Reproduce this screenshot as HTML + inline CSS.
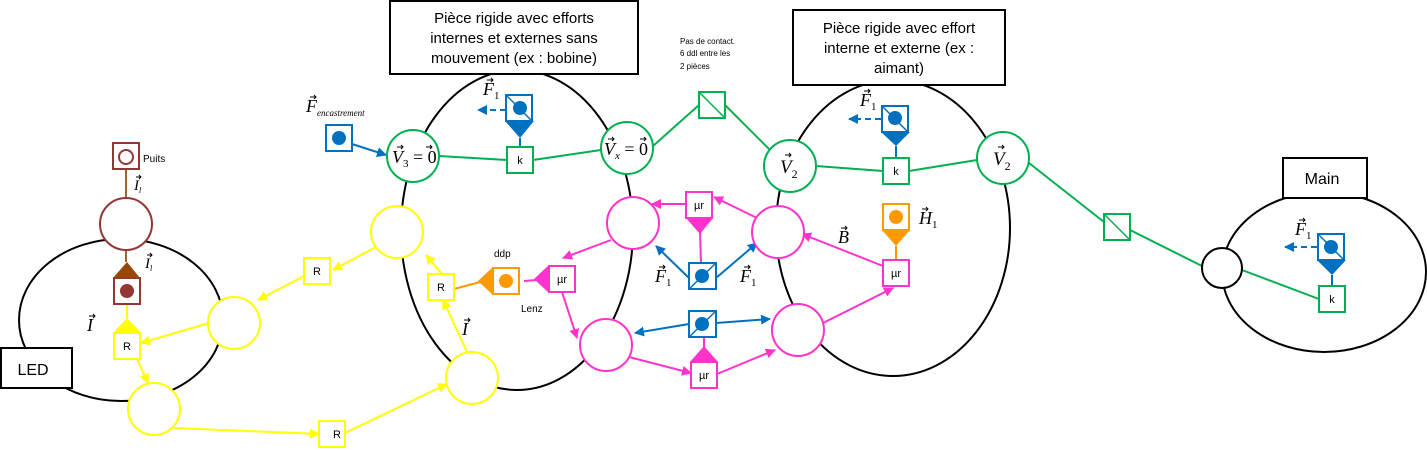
<!DOCTYPE html>
<html><head><meta charset="utf-8"><style>
body{margin:0;background:#fff}
svg{display:block}
text{font-family:"Liberation Sans",sans-serif}
.m text,.m tspan{font-family:"Liberation Serif",serif}
</style></head><body>
<svg width="1427" height="450" viewBox="0 0 1427 450" xmlns="http://www.w3.org/2000/svg">
<defs>
<marker id="ay" markerWidth="10" markerHeight="10" refX="9" refY="5" orient="auto" markerUnits="userSpaceOnUse"><path d="M0,0 L10,5 L0,10z" fill="#ffff00"/></marker>
<marker id="am" markerWidth="10" markerHeight="10" refX="9" refY="5" orient="auto" markerUnits="userSpaceOnUse"><path d="M0,0 L10,5 L0,10z" fill="#ff33cc"/></marker>
<marker id="ab" markerWidth="10" markerHeight="10" refX="9" refY="5" orient="auto" markerUnits="userSpaceOnUse"><path d="M0,0 L10,5 L0,10z" fill="#0070c0"/></marker>
</defs>
<g fill="none" stroke="#000" stroke-width="2">
<ellipse cx="121" cy="320" rx="102" ry="81"/>
<ellipse cx="517" cy="230" rx="116" ry="160"/>
<ellipse cx="893" cy="228" rx="117" ry="148"/>
<ellipse cx="1324" cy="272" rx="102" ry="80"/>
</g>
<g stroke="#00b050" stroke-width="2" fill="none">
<line x1="439" y1="156" x2="507" y2="160"/><line x1="533" y1="160" x2="601" y2="150"/>
<line x1="653" y1="146" x2="699" y2="105"/><line x1="725" y1="105" x2="770" y2="150"/>
<line x1="816" y1="166" x2="883" y2="171"/><line x1="909" y1="171" x2="977" y2="160"/>
<line x1="1029" y1="163" x2="1104" y2="222"/><line x1="1130" y1="230" x2="1202" y2="266"/>
<line x1="1242" y1="270" x2="1319" y2="299"/>
</g>
<line x1="126" y1="170" x2="126" y2="198" stroke="#963" stroke-width="2"/>
<line x1="126" y1="250" x2="126" y2="262" stroke="#963" stroke-width="2"/>
<g stroke="#ffff00" stroke-width="2" fill="none">
<line x1="127" y1="304" x2="127" y2="318"/>
<line x1="376" y1="247" x2="333" y2="270" marker-end="url(#ay)"/>
<line x1="304" y1="276" x2="258" y2="300" marker-end="url(#ay)"/>
<line x1="209" y1="323" x2="141" y2="343" marker-end="url(#ay)"/>
<line x1="137" y1="359" x2="148" y2="383" marker-end="url(#ay)"/>
<line x1="174" y1="428" x2="319" y2="434" marker-end="url(#ay)"/>
<line x1="345" y1="433" x2="447" y2="384" marker-end="url(#ay)"/>
<line x1="467" y1="352" x2="443" y2="300" marker-end="url(#ay)"/>
<line x1="442" y1="274" x2="426" y2="255" marker-end="url(#ay)"/>
</g>
<line x1="454" y1="289" x2="480" y2="282" stroke="#ff9900" stroke-width="2"/>
<g stroke="#ff33cc" stroke-width="2" fill="none">
<line x1="686" y1="204" x2="652" y2="204" marker-end="url(#am)"/>
<line x1="757" y1="218" x2="714" y2="197" marker-end="url(#am)"/>
<line x1="883" y1="266" x2="802" y2="234" marker-end="url(#am)"/>
<line x1="611" y1="240" x2="563" y2="258" marker-end="url(#am)"/>
<line x1="562" y1="292" x2="577" y2="338" marker-end="url(#am)"/>
<line x1="629" y1="357" x2="691" y2="373" marker-end="url(#am)"/>
<line x1="717" y1="374" x2="775" y2="350" marker-end="url(#am)"/>
<line x1="823" y1="323" x2="893" y2="288" marker-end="url(#am)"/>
<line x1="700" y1="232" x2="701" y2="263"/>
<line x1="704" y1="337" x2="704" y2="348"/>
<line x1="524" y1="281" x2="549" y2="279"/>
</g>
<g stroke="#0070c0" stroke-width="2" fill="none">
<line x1="352" y1="144" x2="386" y2="155" marker-end="url(#ab)"/>
<line x1="689" y1="278" x2="656" y2="246" marker-end="url(#ab)"/>
<line x1="716" y1="278" x2="757" y2="243" marker-end="url(#ab)"/>
<line x1="689" y1="324" x2="635" y2="333" marker-end="url(#ab)"/>
<line x1="716" y1="323" x2="770" y2="319" marker-end="url(#ab)"/>
<line x1="506" y1="110" x2="478" y2="110" stroke-dasharray="6,4" marker-end="url(#ab)"/>
<line x1="881" y1="119" x2="849" y2="119" stroke-dasharray="6,4" marker-end="url(#ab)"/>
<line x1="1317" y1="247" x2="1285" y2="247" stroke-dasharray="6,4" marker-end="url(#ab)"/>
<line x1="520" y1="138" x2="520" y2="147"/>
<line x1="896" y1="146" x2="896" y2="158"/>
<line x1="1332" y1="275" x2="1332" y2="286"/>
</g>
<line x1="896" y1="246" x2="896" y2="260" stroke="#ff9900" stroke-width="2"/>
<g fill="#fff" stroke="#00b050" stroke-width="2">
<circle cx="413" cy="156" r="26"/><circle cx="627" cy="148" r="26"/>
<circle cx="790" cy="166" r="26"/><circle cx="1003" cy="158" r="26"/>
<rect x="507" y="147" width="26" height="26"/><rect x="883" y="158" width="26" height="26"/><rect x="1319" y="286" width="26" height="26"/>
<rect x="699" y="92" width="26" height="26"/><rect x="1104" y="214" width="26" height="26"/>
</g>
<line x1="699" y1="92" x2="725" y2="118" stroke="#00b050" stroke-width="1.5"/>
<line x1="1104" y1="214" x2="1130" y2="240" stroke="#00b050" stroke-width="1.5"/>
<circle cx="1222" cy="268" r="20" fill="#fff" stroke="#000" stroke-width="2"/>
<g stroke="#943634" stroke-width="2" fill="#fff">
<rect x="113" y="143" width="26" height="26"/><circle cx="126" cy="157" r="7"/>
<circle cx="126" cy="224" r="26"/>
<rect x="114" y="278" width="26" height="26"/>
</g>
<path d="M113,278 L140,278 L127,262z" fill="#984806"/>
<circle cx="127" cy="291" r="7" fill="#943634"/>
<g stroke="#ffff00" stroke-width="2" fill="#fff">
<circle cx="397" cy="232" r="26"/><circle cx="234" cy="323" r="26"/>
<circle cx="154" cy="409" r="26"/><circle cx="472" cy="378" r="26"/>
<rect x="114" y="333" width="26" height="26"/><rect x="304" y="258" width="26" height="26"/>
<rect x="428" y="274" width="26" height="26"/><rect x="319" y="421" width="26" height="26"/>
</g>
<path d="M113,333 L141,333 L127,318z" fill="#ffff00"/>
<g stroke="#ff33cc" stroke-width="2" fill="#fff">
<circle cx="633" cy="223" r="26"/><circle cx="778" cy="232" r="26"/>
<circle cx="606" cy="345" r="26"/><circle cx="798" cy="330" r="26"/>
<rect x="686" y="192" width="26" height="26"/><rect x="549" y="266" width="26" height="26"/>
<rect x="691" y="362" width="26" height="26"/><rect x="883" y="260" width="26" height="26"/>
</g>
<path d="M686,218 L713,218 L700,234z" fill="#ff33cc"/>
<path d="M549,265 L549,293 L534,279z" fill="#ff33cc"/>
<path d="M690,362 L718,362 L704,346z" fill="#ff33cc"/>
<g stroke="#ff9900" stroke-width="2" fill="#fff">
<rect x="493" y="268" width="26" height="26"/><rect x="883" y="204" width="26" height="26"/>
</g>
<path d="M493,267 L493,295 L478,281z" fill="#ff9900"/>
<path d="M882,230 L910,230 L896,246z" fill="#ff9900"/>
<circle cx="506" cy="281" r="7" fill="#ff9900"/><circle cx="896" cy="217" r="7" fill="#ff9900"/>
<g stroke="#0070c0" stroke-width="2" fill="#fff">
<rect x="326" y="125" width="26" height="26"/>
<rect x="506" y="95" width="26" height="26"/><rect x="882" y="106" width="26" height="26"/>
<rect x="1318" y="234" width="26" height="26"/>
<rect x="689" y="263" width="27" height="26"/><rect x="689" y="311" width="27" height="26"/>
</g>
<g fill="#0070c0">
<circle cx="339" cy="138" r="7"/><circle cx="520" cy="108" r="7"/><circle cx="895" cy="118" r="7"/>
<circle cx="1331" cy="247" r="7"/><circle cx="702" cy="276" r="7"/><circle cx="702" cy="324" r="7"/>
<path d="M505,121 L534,121 L520,138z"/><path d="M881,132 L910,132 L896,146z"/><path d="M1317,260 L1346,260 L1332,275z"/>
</g>
<g stroke="#0070c0" stroke-width="1.5">
<line x1="506" y1="95" x2="532" y2="121"/><line x1="882" y1="106" x2="908" y2="132"/>
<line x1="1318" y1="234" x2="1344" y2="260"/>
<line x1="689" y1="289" x2="716" y2="263"/><line x1="689" y1="337" x2="716" y2="311"/>
</g>
<g fill="#000" font-size="11" text-anchor="middle">
<text x="520" y="164">k</text><text x="896" y="175">k</text><text x="1332" y="303">k</text>
<text x="127" y="350">R</text><text x="317" y="275">R</text><text x="441" y="291">R</text><text x="337" y="438">R</text>
<text x="699" y="209">µr</text><text x="562" y="283">µr</text><text x="704" y="379">µr</text><text x="896" y="277">µr</text>
</g>
<g class="m" fill="#000" font-style="italic">
<text x="392" y="163" font-size="18">V<tspan font-size="11" font-style="normal" dy="4">3</tspan><tspan dy="-4" font-style="normal"> = 0</tspan></text>
<text x="604" y="155" font-size="18">V<tspan font-size="11" dy="4">x</tspan><tspan dy="-4" font-style="normal"> = 0</tspan></text>
<text x="780" y="173" font-size="19">V<tspan font-size="12" font-style="normal" dy="5">2</tspan></text>
<text x="993" y="165" font-size="19">V<tspan font-size="12" font-style="normal" dy="5">2</tspan></text>
<text x="483" y="95" font-size="18">F<tspan font-size="11" font-style="normal" dy="4">1</tspan></text>
<text x="860" y="106" font-size="18">F<tspan font-size="11" font-style="normal" dy="4">1</tspan></text>
<text x="1295" y="235" font-size="18">F<tspan font-size="11" font-style="normal" dy="4">1</tspan></text>
<text x="655" y="282" font-size="18">F<tspan font-size="11" font-style="normal" dy="4">1</tspan></text>
<text x="740" y="282" font-size="18">F<tspan font-size="11" font-style="normal" dy="4">1</tspan></text>
<text x="306" y="112" font-size="18">F<tspan font-size="9" dy="4">encastrement</tspan></text>
<text x="838" y="243" font-size="18">B</text>
<text x="919" y="224" font-size="18">H<tspan font-size="11" font-style="normal" dy="4">1</tspan></text>
<text x="87" y="331" font-size="18">I</text>
<text x="462" y="335" font-size="18">I</text>
<text x="134" y="190" font-size="15">I<tspan font-size="8" dy="3">l</tspan></text>
<text x="145" y="268" font-size="15">I<tspan font-size="8" dy="3">l</tspan></text>
</g>
<g stroke="#000" stroke-width="1" fill="none">
<path d="M397,147h6m-2,-2l2,2l-2,2"/><path d="M426,147h6m-2,-2l2,2l-2,2"/>
<path d="M608,139h6m-2,-2l2,2l-2,2"/><path d="M640,139h6m-2,-2l2,2l-2,2"/>
<path d="M785,155h6m-2,-2l2,2l-2,2"/><path d="M998,147h6m-2,-2l2,2l-2,2"/>
<path d="M487,80h6m-2,-2l2,2l-2,2"/><path d="M864,91h6m-2,-2l2,2l-2,2"/><path d="M1299,220h6m-2,-2l2,2l-2,2"/>
<path d="M659,267h6m-2,-2l2,2l-2,2"/><path d="M744,267h6m-2,-2l2,2l-2,2"/>
<path d="M310,97h6m-2,-2l2,2l-2,2"/><path d="M841,228h6m-2,-2l2,2l-2,2"/><path d="M922,209h6m-2,-2l2,2l-2,2"/>
<path d="M89,316h6m-2,-2l2,2l-2,2"/><path d="M464,320h6m-2,-2l2,2l-2,2"/>
<path d="M136,177h5m-2,-2l2,2l-2,2"/><path d="M147,255h5m-2,-2l2,2l-2,2"/>
</g>
<g fill="#000">
<text x="143" y="162" font-size="10">Puits</text>
<text x="494" y="257" font-size="10">ddp</text>
<text x="521" y="312" font-size="10">Lenz</text>
<text x="680" y="44" font-size="8">Pas de contact.</text>
<text x="680" y="56" font-size="8">6 ddl entre  les</text>
<text x="680" y="69" font-size="8">2 pièces</text>
</g>
<g fill="#fff" stroke="#000" stroke-width="2">
<rect x="1" y="348" width="71" height="40"/>
<rect x="390" y="1" width="248" height="73"/>
<rect x="793" y="10" width="212" height="75"/>
<rect x="1283" y="158" width="84" height="40"/>
</g>
<g fill="#000" text-anchor="middle" font-size="15">
<text x="33" y="375" font-size="16">LED</text>
<text x="514" y="23">Pièce rigide avec efforts</text>
<text x="514" y="43">internes et externes sans</text>
<text x="514" y="63">mouvement (ex : bobine)</text>
<text x="899" y="33">Pièce rigide avec effort</text>
<text x="899" y="53">interne et externe (ex :</text>
<text x="899" y="73">aimant)</text>
<text x="1322" y="184" font-size="16">Main</text>
</g>
</svg>
</body></html>
